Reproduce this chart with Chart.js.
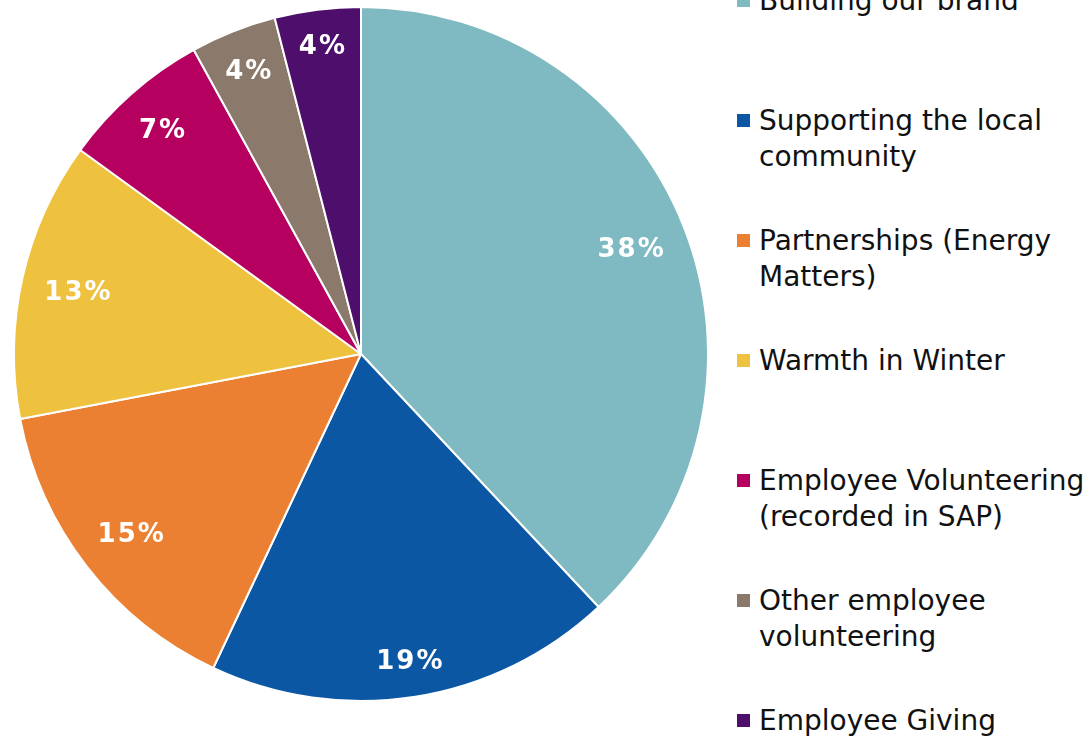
<!DOCTYPE html>
<html>
<head>
<meta charset="utf-8">
<script src="https://cdn.jsdelivr.net/npm/chart.js@4/dist/chart.umd.min.js"></script>
<style>
  html, body { margin: 0; padding: 0; background: #ffffff; width: 1084px; height: 737px; overflow: hidden; position: relative; }
  #wrap { position: absolute; left: 0; top: 0; width: 722px; height: 708px; }
  #legend { position: absolute; left: 0; top: 0; font-family: "DejaVu Sans", Verdana, sans-serif; font-size: 28px; line-height: 36px; color: #111111; }
  .item { position: absolute; left: 737px; white-space: nowrap; }
  .box { position: absolute; left: 0; top: 11px; width: 13px; height: 13px; }
  .txt { position: absolute; left: 22px; top: 0; }
</style>
</head>
<body>
<div id="wrap"><canvas id="c"></canvas></div>
<div id="legend"></div>
<script>
const categories = [
  ['Building our brand'],
  ['Supporting the local', 'community'],
  ['Partnerships (Energy', 'Matters)'],
  ['Warmth in Winter'],
  ['Employee Volunteering', '(recorded in SAP)'],
  ['Other employee', 'volunteering'],
  ['Employee Giving']
];
const shares = [38, 19, 15, 13, 7, 4, 4];
const sliceColors = ['#7FB9C2', '#0B57A4', '#EB8033', '#EEC13F', '#B5005F', '#8B7A6B', '#4E0E6B'];

// HTML legend built from the arrays
const legend = document.getElementById('legend');
categories.forEach((lines, i) => {
  const it = document.createElement('div');
  it.className = 'item';
  it.style.top = (-17 + 120 * i) + 'px';
  const b = document.createElement('div');
  b.className = 'box';
  b.style.background = sliceColors[i];
  const t = document.createElement('div');
  t.className = 'txt';
  t.innerHTML = lines.join('<br>');
  it.appendChild(b); it.appendChild(t);
  legend.appendChild(it);
});

const insideEndLabels = {
  id: 'insideEndLabels',
  afterDatasetsDraw(chart) {
    const ctx = chart.ctx;
    const meta = chart.getDatasetMeta(0);
    ctx.save();
    ctx.font = 'bold 26px "DejaVu Sans", Verdana, sans-serif';
    ctx.fillStyle = '#ffffff';
    ctx.textAlign = 'center';
    ctx.textBaseline = 'middle';
    try { ctx.letterSpacing = '2px'; } catch (e) {}
    meta.data.forEach((arc, i) => {
      const p = arc.getProps(['x', 'y', 'startAngle', 'endAngle', 'outerRadius'], true);
      const mid = (p.startAngle + p.endAngle) / 2;
      const txt = chart.data.datasets[0].data[i] + '%';
      const w = ctx.measureText(txt).width + 6;
      const h = 30;
      const ext = (w / 2) * Math.abs(Math.cos(mid)) + (h / 2) * Math.abs(Math.sin(mid));
      const r = p.outerRadius - 17 - ext;
      ctx.fillText(txt, p.x + r * Math.cos(mid) + 1, p.y + r * Math.sin(mid) + 3);
    });
    ctx.restore();
  }
};

new Chart(document.getElementById('c'), {
  type: 'pie',
  data: {
    labels: categories.map(l => l.join(' ')),
    datasets: [{
      data: shares,
      backgroundColor: sliceColors,
      borderColor: '#ffffff',
      borderWidth: 2
    }]
  },
  options: {
    responsive: true,
    maintainAspectRatio: false,
    animation: false,
    layout: { padding: 6 },
    plugins: {
      legend: { display: false },
      tooltip: { enabled: false }
    }
  },
  plugins: [insideEndLabels]
});
</script>
</body>
</html>
